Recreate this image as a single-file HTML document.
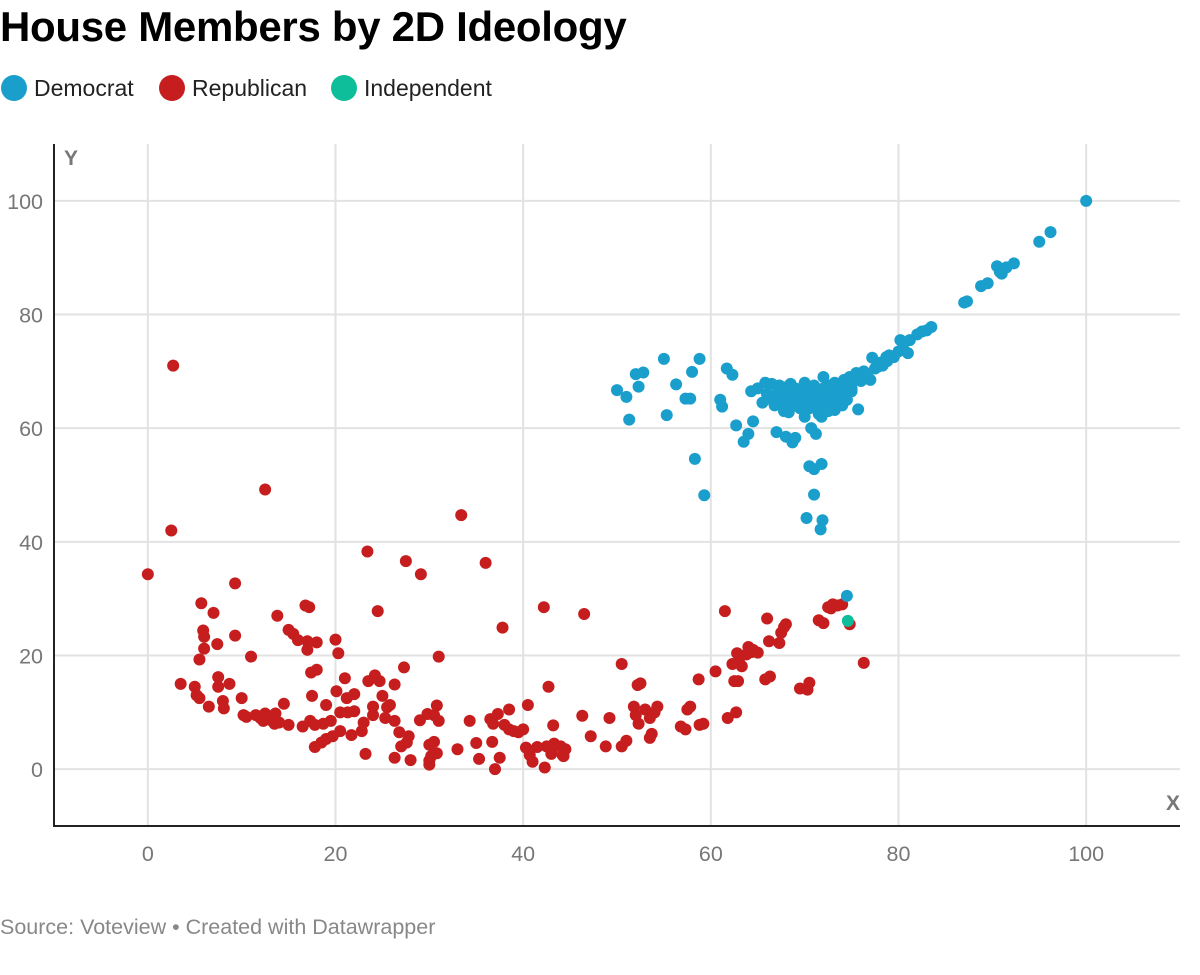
<!DOCTYPE html>
<html><head><meta charset="utf-8"><style>
body{margin:0;background:#fff;width:1200px;height:970px;overflow:hidden;font-family:"Liberation Sans",Arial,sans-serif}
</style></head><body>
<svg id="chart" width="1200" height="970" xmlns="http://www.w3.org/2000/svg">
<text x="0" y="41" font-size="42" font-weight="bold" fill="#000" style="letter-spacing:-0.3px">House Members by 2D Ideology</text>
<g font-size="23" fill="#222">
<circle cx="14" cy="88" r="13" fill="#1a9fcd"/><text x="34" y="96">Democrat</text>
<circle cx="172" cy="88" r="13" fill="#c61e1e"/><text x="192" y="96">Republican</text>
<circle cx="344" cy="88" r="13" fill="#0ebd9a"/><text x="364" y="96">Independent</text>
</g>
<g id="grid"></g><g id="marks"></g><g id="axes"></g>
<text x="0" y="934" font-size="21.5" fill="#888">Source: Voteview • Created with Datawrapper</text>
</svg>
<script>
const xTicks=[0,20,40,60,80,100];
const yTicks=[0,20,40,60,80,100];
const repX=[0,2.5,2.7,3.5,5,5.2,5.5,5.5,5.7,5.9,6,6,6.5,7,7.4,7.5,7.5,8,8.1,8.7,9.3,9.3,10,10.2,10.5,11,11.5,12,12.3,12.5,12.5,13,13.5,13.6,13.8,14,14.5,15,15,15.5,16,16.5,16.8,17,17,17.2,17.3,17.4,17.5,17.8,17.8,18,18,18.5,18.7,19,19,19.5,19.7,20,20.1,20.3,20.5,20.5,21,21.2,21.3,21.7,22,22,22.8,23,23.2,23.4,23.5,24,24,24.2,24.5,24.7,25,25.3,25.5,25.8,26.3,26.3,26.3,26.8,27,27.3,27.5,27.6,27.8,28,29,29.1,29.8,30,30,30,30.2,30.5,30.5,30.8,30.8,31,31,33,33.4,34.3,35,35.3,36,36.5,36.7,36.8,37,37.3,37.5,37.8,38,38.5,38.5,39,39.5,40,40.3,40.5,40.7,41,41.5,42.2,42.3,42.5,42.7,43,43,43.2,43.3,44,44.2,44.5,44.3,46.3,46.5,47.2,48.8,49.2,50.5,50.5,51,51.8,52,52.2,52.3,52.5,53,53.5,53.5,53.7,54,54.3,56.8,57.3,57.5,57.8,58.7,58.8,59.2,60.5,61.5,61.8,62.3,62.5,62.7,62.8,62.9,63,63.3,63.8,64,64.3,64.5,65,65.8,66,66.2,66.3,67.3,67.5,67.8,68,69.5,70.3,70.5,71.5,72,72.5,72.8,73,73.5,74,74.8,76.3];
const repY=[34.3,42,71,15,14.5,13,12.5,19.3,29.2,24.4,23.3,21.2,11,27.5,22,16.2,14.5,12,10.7,15,32.7,23.5,12.5,9.5,9.2,19.8,9.5,9,8.5,49.2,9.8,8.7,8,9.8,27,8.2,11.5,7.8,24.5,23.8,22.7,7.5,28.8,21,22.5,28.5,8.5,17,12.9,7.8,3.9,17.5,22.3,4.7,8,11.3,5.3,8.5,5.8,22.8,13.7,20.4,6.7,10,16,12.5,10,6,13.2,10.2,6.7,8.2,2.7,38.3,15.5,11,9.5,16.5,27.8,15.5,12.9,9,10.9,11.3,14.9,8.5,2,6.5,4,17.9,36.6,4.7,5.8,1.6,8.6,34.3,9.7,4.3,1.5,0.8,2.3,9.5,4.8,11.2,2.8,19.8,8.5,3.5,44.7,8.5,4.6,1.8,36.3,8.8,4.8,8,0,9.7,2,24.9,7.8,7,10.5,6.7,6.5,7,3.8,11.3,2.5,1.3,3.9,28.5,0.3,4,14.5,3.2,2.7,7.7,4.5,4,2.5,3.5,2.3,9.4,27.3,5.8,4,9,18.5,4,5,11,9.5,14.8,8,15.1,10.5,9,5.5,6.2,10,11,7.5,7,10.5,11,15.8,7.8,8,17.2,27.8,9,18.5,15.5,10,20.4,15.5,18.9,18.1,20.2,21.5,20.6,21,20.5,15.8,26.5,22.5,16.3,22.2,24,25,25.5,14.2,14,15.2,26.2,25.7,28.5,28.3,29,28.8,29,25.5,18.7];
const demX=[50,51,51.3,52,52.3,52.8,55,55.3,56.3,57.3,57.8,58,58.3,58.8,59.3,61,61.2,61.7,62.3,62.7,63.5,64,64.3,64.5,65,65.5,65.8,66,66.5,66.8,67,67.3,67.8,68,68,68.3,68.5,68.7,68.8,69,69,69.3,69.5,69.8,70,70,70.2,70.5,70.5,70.7,70.8,71,71,71,71.2,71.3,71.5,71.7,71.8,71.9,72,72,72.3,72.5,72.7,73,73.2,73.5,73.7,74,74.2,74.5,74.8,74.5,75,75.5,75.7,76,76.3,76.7,77,77.2,77.5,78,78.3,78.7,79,79.5,80,80.2,80.5,81,81.2,82,82.5,83,83.5,87,87.3,88.8,89.5,90.5,90.8,91,91.5,92.3,95,96.2,100,
66.5,67,67.5,68,68.5,69,69.5,70,70.5,71,71.5,72,72.5,73,73.5,74,74.5,75,66,67,68,69,70,71,72,73,74,75,76,67.5,68.5,69.5,70.5,71.5,72.5,73.5,74.5,69,70,71,72,73,68,70.2,71.8,73.2,76.5,75.8,77.8,78.8];
const demY=[66.7,65.5,61.5,69.5,67.3,69.8,72.2,62.3,67.7,65.2,65.2,69.9,54.6,72.2,48.2,65,63.8,70.5,69.4,60.5,57.6,59,66.5,61.2,67,64.5,68,66,67.8,64,59.3,67.5,63,66.5,58.5,62.8,67.8,57.5,64.5,65.5,58.3,66.8,63.5,65.8,68,62,44.2,53.3,66.5,60,64.5,48.3,52.8,67.5,59,65,62.5,42.2,53.7,43.8,66.8,69,64,67.5,63.7,66,68,65,67.5,64,68.5,66.5,69,30.5,67,69.7,63.3,68.3,70,69,68.5,72.4,70.5,71.5,71,72.5,72.8,72.5,73.5,75.5,74,73.2,75.5,76.5,77,77.2,77.8,82.1,82.3,85,85.5,88.5,87.5,87.2,88.3,89,92.8,94.5,100,
65,66,64.5,67,65.5,64,66,67,65,66,64.5,67,65.5,66.5,67,66,67.5,68,66,65,64,66,65.5,64,65,64.5,66,66.5,68.5,66,65,64,63.5,64,63,64,65,67,66.5,66,65.5,67.5,67.2,64,62,63.2,69.5,68.5,70.8,71.8];
const indX=[74.6];
const indY=[26.1];

const NS='http://www.w3.org/2000/svg';
const X0=54,X1=1180,Y0=826,Y1=144;
const xs=v=>X0+(v+10)/120*(X1-X0);
const ys=v=>Y0-(v+10)/120*(Y0-Y1);
const grid=document.getElementById('grid'),marks=document.getElementById('marks'),axes=document.getElementById('axes');
function mk(tag,attrs,parent){const e=document.createElementNS(NS,tag);for(const k in attrs)e.setAttribute(k,attrs[k]);parent.appendChild(e);return e;}
xTicks.forEach(t=>{
  const l=mk('line',{x1:xs(t),x2:xs(t),y1:Y1,y2:Y0,stroke:'#e2e2e2','stroke-width':2},grid);
  
  
  const tx=mk('text',{x:xs(t),y:861,'text-anchor':'middle','font-size':21.5,fill:'#777'},axes);
  tx.textContent=t;
  
  
});
yTicks.forEach(t=>{
  const l=mk('line',{x1:X0,x2:X1,y1:ys(t),y2:ys(t),stroke:'#e2e2e2','stroke-width':2},grid);
  
  
  const tx=mk('text',{x:43,y:ys(t)+8,'text-anchor':'end','font-size':21.5,fill:'#777'},axes);
  tx.textContent=t;
  
  
});
let a=mk('line',{x1:X0,x2:X0,y1:Y1,y2:Y0+1,stroke:'#222','stroke-width':2},axes);


a=mk('line',{x1:X0-1,x2:X1,y1:Y0,y2:Y0,stroke:'#222','stroke-width':2},axes);


let t=mk('text',{x:64,y:165,'font-size':21,'font-weight':'bold',fill:'#777'},axes);t.textContent='Y';


t=mk('text',{x:1180,y:810,'text-anchor':'end','font-size':21,'font-weight':'bold',fill:'#777'},axes);t.textContent='X';


function series(X,Y,col,name){for(let i=0;i<X.length;i++){const c=mk('circle',{cx:xs(X[i]),cy:ys(Y[i]),r:6,fill:col},marks);
  
  }}
series(repX,repY,'#c61e1e','republican-point');
series(demX,demY,'#1a9fcd','democrat-point');
series(indX,indY,'#0ebd9a','independent-point');
</script>
</body></html>
